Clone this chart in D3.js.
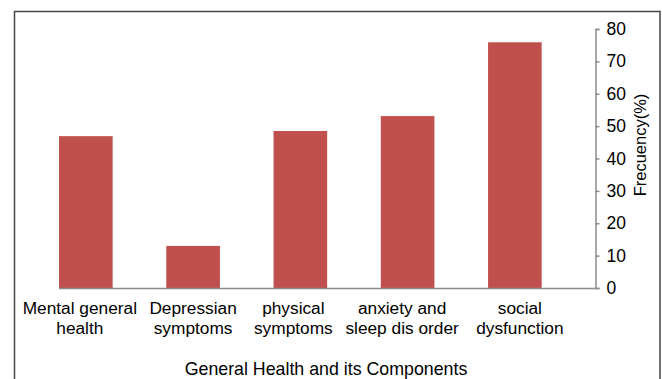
<!DOCTYPE html>
<html><head><meta charset="utf-8">
<script src="https://cdn.jsdelivr.net/npm/d3@7"></script>
<style>html,body{margin:0;padding:0;background:#fff;}svg{display:block;font-family:"Liberation Sans",Arial,sans-serif;}</style>
</head><body>
<svg id="c" width="662" height="379"></svg>
<script>
const categories = [["Mental general","health"],["Depressian","symptoms"],["physical","symptoms"],["anxiety and","sleep dis order"],["social","dysfunction"]];
const values = [46.9, 13.0, 48.5, 53.1, 75.9];
const yTicks = [0,10,20,30,40,50,60,70,80];
const xTitle = "General Health and its Components";
const yTitle = "Frecuency(%)";

const svg = d3.select("#c");
// outer frame
svg.append("rect").attr("x",14.5).attr("y",11.5).attr("width",645.5).attr("height",380)
  .attr("fill","none").attr("stroke","#444").attr("stroke-width",1.5);

const x = d3.scaleBand().domain(d3.range(categories.length)).range([32.2,568.5]).paddingInner(0.5).paddingOuter(0.25);
const y = d3.scaleLinear().domain([0,80]).range([288,29]);

svg.selectAll("rect.bar").data(values).enter().append("rect").attr("class","bar")
  .attr("x",(d,i)=>x(i)).attr("width",x.bandwidth())
  .attr("y",d=>y(d)).attr("height",d=>y(0)-y(d)).attr("fill","#c0504d");

// baseline
svg.append("line").attr("x1",59).attr("x2",596).attr("y1",y(0)+0.5).attr("y2",y(0)+0.5)
  .attr("stroke","#8c8c8c").attr("stroke-width",1.5);

// right axis
const ax = d3.axisRight(y).tickValues(yTicks).tickSize(4).tickPadding(7);
const g = svg.append("g").attr("transform","translate(595.5,0)").call(ax);
g.select(".domain").attr("stroke","#8c8c8c").attr("stroke-width",1.5);
g.selectAll(".tick line").attr("stroke","#8c8c8c").attr("stroke-width",1.5);
g.selectAll(".tick text").attr("font-size","17.5px").attr("fill","#000").attr("font-family","Liberation Sans, Arial, sans-serif");

// category labels (small horizontal nudges mimic the original label wrapping layout)
const nudge = [-6, 0, -7, -5.5, 5];
const lab = svg.selectAll("text.cat").data(categories).enter().append("text").attr("class","cat")
  .attr("text-anchor","middle").attr("font-size","17.3px").attr("fill","#000");
lab.each(function(d,i){
  const t = d3.select(this);
  d.forEach((s,k)=>t.append("tspan").attr("x",x(i)+x.bandwidth()/2+nudge[i]).attr("y",314+k*20).text(s));
});

svg.append("text").attr("x",326).attr("y",375).attr("text-anchor","middle").attr("font-size","17.8px").text(xTitle);
svg.append("text").attr("transform","translate(646,145) rotate(-90)").attr("text-anchor","middle").attr("font-size","16.5px").text(yTitle);
</script>
</body></html>
